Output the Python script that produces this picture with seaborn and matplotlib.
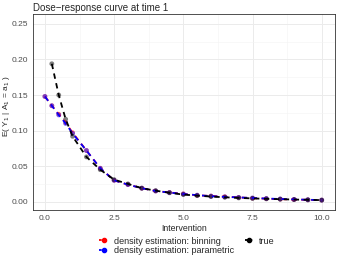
import numpy as np
import pandas as pd
import matplotlib
matplotlib.use("Agg")
import matplotlib.pyplot as plt
from matplotlib.lines import Line2D
import seaborn as sns

# values
x_est = [0, 0.25, 0.5, 0.75, 1.0, 1.5, 2.0, 2.5, 3.0, 3.5, 4.0, 4.5, 5.0,
         5.5, 6.0, 6.5, 7.0, 7.5, 8.0, 8.5, 9.0, 9.5, 10.0]
binning = [0.148, 0.135, 0.123, 0.111, 0.097, 0.072, 0.047, 0.030, 0.024, 0.019,
           0.015, 0.013, 0.011, 0.009, 0.008, 0.007, 0.006, 0.005, 0.0042,
           0.0036, 0.003, 0.0026, 0.0022]
parametric = [0.148, 0.135, 0.122, 0.110, 0.096, 0.072, 0.047, 0.030, 0.024, 0.019,
              0.015, 0.0128, 0.0108, 0.0092, 0.0078, 0.0068, 0.006, 0.0052, 0.0044,
              0.0038, 0.0032, 0.0027, 0.0022]
x_true = [0.25, 0.5, 0.75, 1.0, 1.5, 2.0, 2.5, 3.0, 3.5, 4.0, 4.5, 5.0,
          5.5, 6.0, 6.5, 7.0, 7.5, 8.0, 8.5, 9.0, 9.5, 10.0]
true = [0.194, 0.150, 0.116, 0.092, 0.063, 0.045, 0.031, 0.025, 0.019, 0.0155,
        0.0125, 0.010, 0.0085, 0.0072, 0.0062, 0.0053, 0.0046, 0.0040,
        0.0035, 0.003, 0.0026, 0.0022]

labels = ["density estimation: binning", "density estimation: parametric", "true"]
colors = ["#FF0000", "#0000FF", "#000000"]

df = pd.concat([
    pd.DataFrame({"x": x_est, "y": binning, "method": labels[0]}),
    pd.DataFrame({"x": x_est, "y": parametric, "method": labels[1]}),
    pd.DataFrame({"x": x_true, "y": true, "method": labels[2]}),
])
pal = dict(zip(labels, colors))

sns.set_style("white")
plt.rcParams["font.family"] = ["Liberation Sans", "DejaVu Sans"]

fig = plt.figure(figsize=(3.38, 2.63), dpi=100)
ax = fig.add_axes([33/338, 1 - 210/263, 302/338, 196/263])

for lab in labels:
    d = df[df["method"] == lab]
    sns.scatterplot(data=d, x="x", y="y", color=pal[lab], s=12, alpha=0.5,
                    edgecolor="none", ax=ax, legend=False, zorder=3)
    sns.lineplot(data=d, x="x", y="y", color=pal[lab], lw=1.3,
                 dashes=False, ax=ax, legend=False, zorder=4,
                 linestyle=(0, (3, 2.5)))

ax.set_xlim(-0.43, 10.48)
ax.set_ylim(-0.0117, 0.264)
ax.set_xticks([0, 2.5, 5, 7.5, 10])
ax.set_xticklabels(["0.0", "2.5", "5.0", "7.5", "10.0"])
ax.set_yticks([0, 0.05, 0.10, 0.15, 0.20, 0.25])
ax.set_yticklabels(["0.00", "0.05", "0.10", "0.15", "0.20", "0.25"])
ax.set_xticks([1.25, 3.75, 6.25, 8.75], minor=True)
ax.set_yticks([0.025, 0.075, 0.125, 0.175, 0.225], minor=True)
ax.grid(which="major", color="#EBEBEB", lw=0.7)
ax.grid(which="minor", color="#F3F3F3", lw=0.4)
ax.set_axisbelow(True)
ax.tick_params(which="major", length=2.2, width=0.5, color="#333333",
               labelsize=6, labelcolor="#4D4D4D", pad=1.5)
ax.tick_params(which="minor", length=0)
for s in ax.spines.values():
    s.set_color("#333333")
    s.set_linewidth(0.6)

ax.set_xlabel("Intervention", fontsize=6.3, labelpad=1.5)
ax.set_ylabel(r"E( Y$_1$ | A$_1$ = a$_1$ )", fontsize=6)
ax.yaxis.set_label_coords(-0.07, 0.53)
fig.text(33/338, 1 - 8/263, "Dose\u2212response curve at time 1", fontsize=7,
         va="center", ha="left")

handles = [Line2D([], [], color=c, lw=1.3, linestyle=(0, (1.5, 1)),
                  marker="o", ms=3) for c in colors]
fig.legend(handles, labels, ncol=2, loc="center", bbox_to_anchor=(0.553, 1 - 246/263),
           frameon=False, fontsize=6.5, handlelength=1.0, handletextpad=0.6,
           columnspacing=1.2, labelspacing=0.1, borderpad=0)

fig.savefig("out.png", dpi=100)
